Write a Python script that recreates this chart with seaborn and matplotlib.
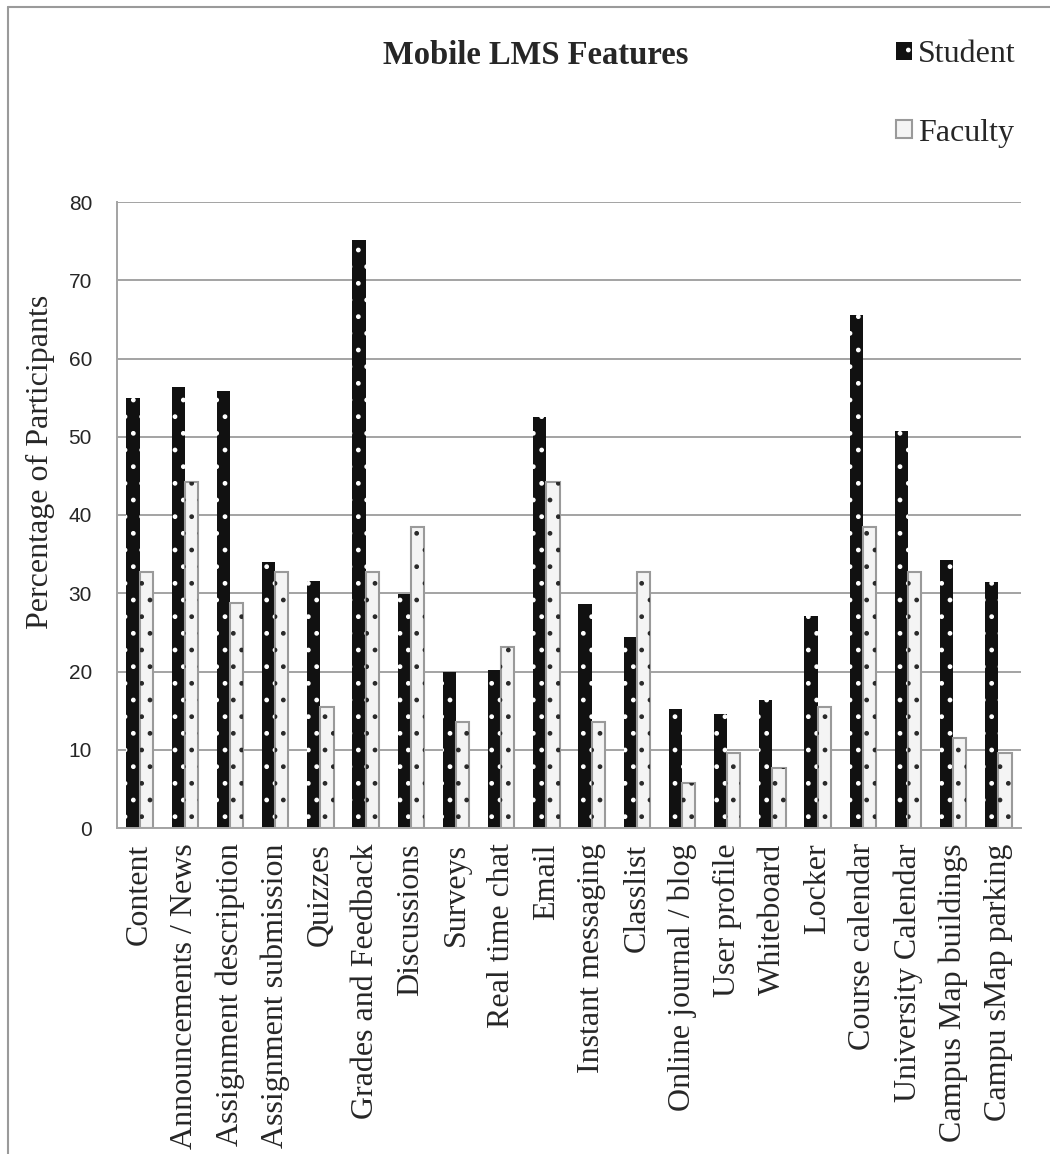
import matplotlib
matplotlib.use("Agg")
import matplotlib.pyplot as plt
from matplotlib.patches import Rectangle, Patch
from matplotlib.lines import Line2D
import pandas as pd
import seaborn as sns

# ---- data -------------------------------------------------------------
features = [
    "Content", "Announcements / News", "Assignment description",
    "Assignment submission", "Quizzes", "Grades and Feedback", "Discussions",
    "Surveys", "Real time chat", "Email", "Instant messaging", "Classlist",
    "Online journal / blog", "User profile", "Whiteboard", "Locker",
    "Course calendar", "University Calendar", "Campus Map buildings",
    "Campu sMap parking",
]
student = [54.9, 56.4, 55.8, 34.0, 31.6, 75.2, 29.9, 19.9, 20.2, 52.5,
           28.6, 24.4, 15.2, 14.6, 16.4, 27.1, 65.6, 50.7, 34.2, 31.5]
faculty = [32.7, 44.2, 28.8, 32.7, 15.4, 32.7, 38.5, 13.5, 23.1, 44.2,
           13.5, 32.7, 5.8, 9.6, 7.7, 15.4, 38.5, 32.7, 11.5, 9.6]
groups = ["Student", "Faculty"]
y_ticks = [0, 10, 20, 30, 40, 50, 60, 70, 80]

# ---- style ------------------------------------------------------------
sns.set_style("white")
plt.rcParams["font.family"] = ["Liberation Serif", "DejaVu Serif"]
GRID = "#a3a3a3"
STUDENT_FILL = "#111111"
FACULTY_FILL = "#f4f4f4"
FACULTY_EDGE = "#9a9a9a"

W, H = 1050, 1154
fig = plt.figure(figsize=(W / 100, H / 100), dpi=100)
ax = fig.add_axes([117 / W, 1 - 828 / H, 904 / W, 626 / H])

df = pd.DataFrame({
    "Feature": features * 2,
    "Percent": student + faculty,
    "Group": ["Student"] * len(features) + ["Faculty"] * len(features),
})

sns.barplot(
    data=df, x="Feature", y="Percent", hue="Group",
    order=features, hue_order=groups,
    palette={"Student": STUDENT_FILL, "Faculty": FACULTY_FILL},
    saturation=1, width=0.58, gap=0, errorbar=None, legend=False, ax=ax,
)

# dotted fills: white dots on the dark bars, dark dots on the light bars
bars = list(ax.patches)
n = len(features)
for i, p in enumerate(bars):
    if i < n:
        p.set_edgecolor("white")
        p.set_linewidth(0)
        p.set_hatch(".")
    else:
        p.set_edgecolor(FACULTY_EDGE)
        p.set_linewidth(1.5)
        dots = Rectangle((p.get_x(), p.get_y()), p.get_width(), p.get_height(),
                         facecolor="none", edgecolor="#2a2a2a", linewidth=0,
                         hatch=".", zorder=p.get_zorder() + 0.1)
        ax.add_patch(dots)

# ---- axes -------------------------------------------------------------
ax.set_ylim(0, 80)
ax.set_yticks(y_ticks)
ax.set_yticklabels([str(v) for v in y_ticks], family="Liberation Sans", fontsize=15)
ax.yaxis.grid(True, color=GRID, linewidth=1.4)
ax.xaxis.grid(False)
ax.set_axisbelow(True)
for side in ("top", "right"):
    ax.spines[side].set_visible(False)
for side in ("left", "bottom"):
    ax.spines[side].set_color(GRID)
    ax.spines[side].set_linewidth(1.4)

ax.set_xlim(-0.5, n - 0.5)
ax.set_xticks(range(n))
ax.set_xticklabels(features, rotation=90, ha="center", va="top", fontsize=23)
ax.set_xticks([k - 0.5 for k in range(n + 1)], minor=True)
ax.tick_params(axis="x", which="major", length=0, pad=11)
ax.tick_params(axis="x", which="minor", length=6, width=1.4, color=GRID, direction="out")
ax.tick_params(axis="y", length=6, width=1.4, color=GRID, direction="out", pad=12)
ax.set_xlabel("")
ax.set_ylabel("")

fig.text(40 / W, 1 - 462 / H, "Percentage of Participants", rotation=90,
         ha="center", va="center", fontsize=23)
fig.text(536 / W, 1 - 56 / H, "Mobile LMS Features", ha="center", va="center",
         fontsize=23.5, fontweight="bold")

# ---- legend -----------------------------------------------------------
h_student = Patch(facecolor=STUDENT_FILL, edgecolor="white", linewidth=0, hatch=".")
h_faculty = Patch(facecolor=FACULTY_FILL, edgecolor=FACULTY_EDGE, linewidth=1.5)
fig.legend([h_student, h_faculty], groups, loc="upper left",
           bbox_to_anchor=(896 / W, 1 - 40 / H), frameon=False, fontsize=23,
           handlelength=0.5, handleheight=0.5, handletextpad=0.2,
           labelspacing=1.55, borderpad=0, borderaxespad=0)

# outer frame
fig.add_artist(Line2D([8 / W, 8 / W], [0, 1 - 7 / H], color="#9a9a9a", linewidth=1.5))
fig.add_artist(Line2D([8 / W, 1], [1 - 7 / H, 1 - 7 / H], color="#9a9a9a", linewidth=1.5))

fig.savefig("out.png", dpi=100, facecolor="white")
